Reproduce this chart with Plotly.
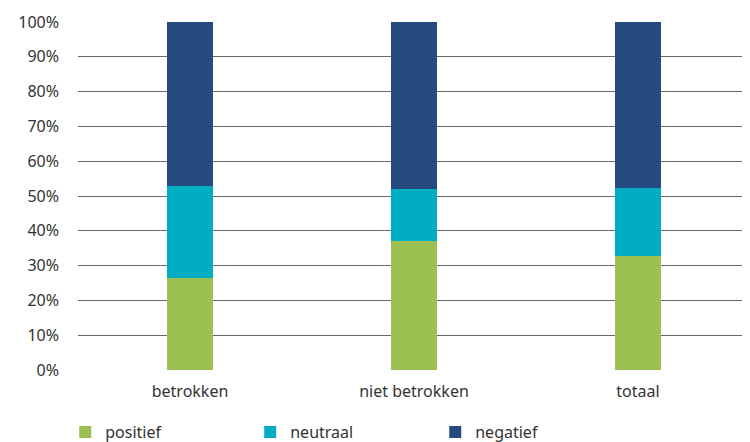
import plotly.graph_objects as go

categories = ["betrokken", "niet betrokken", "totaal"]
positief = [26.5, 37.1, 32.8]
neutraal = [26.3, 14.8, 19.4]
negatief = [47.2, 48.1, 47.8]
tick_vals = [0, 10, 20, 30, 40, 50, 60, 70, 80, 90, 100]
tick_text = [f"{v}%" for v in tick_vals]

series = [("positief", positief, "#9BBF50"),
          ("neutraal", neutraal, "#00ADC2"),
          ("negatief", negatief, "#264A7F")]

fig = go.Figure()
for name, vals, col in series:
    fig.add_trace(go.Bar(x=categories, y=vals, name=name, marker_color=col,
                         marker_line_width=0))

fig.update_layout(
    barmode="stack",
    bargap=0.795,
    width=742, height=441,
    margin=dict(l=70, r=0, t=14, b=79),
    paper_bgcolor="white", plot_bgcolor="white",
    font=dict(family="Noto Sans", size=16, color="#333333"),
    legend=dict(orientation="h", x=-0.019, y=-0.227, xanchor="left", yanchor="bottom",
                entrywidth=140, entrywidthmode="pixels",
                font=dict(size=16, color="#333333"), traceorder="normal"),
    yaxis=dict(range=[0, 100], tickvals=tick_vals, ticktext=tick_text,
               showgrid=True, gridcolor="#666666", gridwidth=1.2,
               zeroline=False, showline=False, ticks="", ticklabelstandoff=18,
               tickfont=dict(size=16)),
    xaxis=dict(showline=False, ticks="", showgrid=False, ticklabelstandoff=10,
               tickfont=dict(size=16)),
)
fig.write_html("out.html")
